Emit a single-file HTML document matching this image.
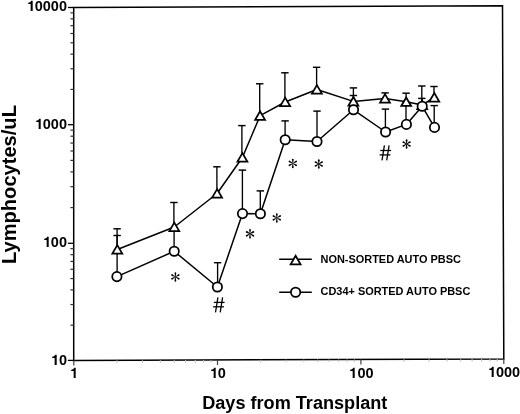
<!DOCTYPE html>
<html><head><meta charset="utf-8"><style>
html,body{margin:0;padding:0;background:#fff;}
body{filter:grayscale(1);}
body{width:520px;height:414px;overflow:hidden;position:relative;font-family:"Liberation Sans",sans-serif;}
svg{position:absolute;left:0;top:0;}
.t{position:absolute;font-weight:bold;white-space:nowrap;line-height:1;color:#000;}
.yl{font-size:14.5px;text-align:right;width:60px;}
.xl{font-size:14.5px;text-align:center;width:60px;}
.lg{font-size:10.95px;}
.one{position:relative;color:transparent;}
.one svg{position:absolute;left:0;top:0;width:0.556em;height:0.905em;overflow:visible;fill:#000;}
</style></head><body>
<svg width="520" height="414" viewBox="0 0 520 414" stroke="#000" stroke-linecap="butt">
<polygon points="73.7,7.5 502.5,5.7 503.8,358.9 73.7,360.4" fill="none" stroke-width="1.5" stroke-linejoin="miter"/>
<line x1="67.90" y1="360.40" x2="73.70" y2="360.40" stroke-width="1.3"/>
<line x1="70.40" y1="325.15" x2="73.70" y2="325.15" stroke-width="1.2" stroke="#333"/>
<line x1="70.40" y1="304.53" x2="73.70" y2="304.53" stroke-width="1.2" stroke="#333"/>
<line x1="70.40" y1="289.90" x2="73.70" y2="289.90" stroke-width="1.2" stroke="#333"/>
<line x1="70.40" y1="278.55" x2="73.70" y2="278.55" stroke-width="1.2" stroke="#333"/>
<line x1="70.40" y1="269.28" x2="73.70" y2="269.28" stroke-width="1.2" stroke="#333"/>
<line x1="70.40" y1="261.44" x2="73.70" y2="261.44" stroke-width="1.2" stroke="#333"/>
<line x1="70.40" y1="254.65" x2="73.70" y2="254.65" stroke-width="1.2" stroke="#333"/>
<line x1="70.40" y1="248.66" x2="73.70" y2="248.66" stroke-width="1.2" stroke="#333"/>
<line x1="67.90" y1="243.30" x2="73.70" y2="243.30" stroke-width="1.3"/>
<line x1="70.40" y1="207.60" x2="73.70" y2="207.60" stroke-width="1.2" stroke="#333"/>
<line x1="70.40" y1="186.71" x2="73.70" y2="186.71" stroke-width="1.2" stroke="#333"/>
<line x1="70.40" y1="171.90" x2="73.70" y2="171.90" stroke-width="1.2" stroke="#333"/>
<line x1="70.40" y1="160.40" x2="73.70" y2="160.40" stroke-width="1.2" stroke="#333"/>
<line x1="70.40" y1="151.01" x2="73.70" y2="151.01" stroke-width="1.2" stroke="#333"/>
<line x1="70.40" y1="143.07" x2="73.70" y2="143.07" stroke-width="1.2" stroke="#333"/>
<line x1="70.40" y1="136.19" x2="73.70" y2="136.19" stroke-width="1.2" stroke="#333"/>
<line x1="70.40" y1="130.13" x2="73.70" y2="130.13" stroke-width="1.2" stroke="#333"/>
<line x1="67.90" y1="124.70" x2="73.70" y2="124.70" stroke-width="1.3"/>
<line x1="70.40" y1="89.42" x2="73.70" y2="89.42" stroke-width="1.2" stroke="#333"/>
<line x1="70.40" y1="68.78" x2="73.70" y2="68.78" stroke-width="1.2" stroke="#333"/>
<line x1="70.40" y1="54.14" x2="73.70" y2="54.14" stroke-width="1.2" stroke="#333"/>
<line x1="70.40" y1="42.78" x2="73.70" y2="42.78" stroke-width="1.2" stroke="#333"/>
<line x1="70.40" y1="33.50" x2="73.70" y2="33.50" stroke-width="1.2" stroke="#333"/>
<line x1="70.40" y1="25.65" x2="73.70" y2="25.65" stroke-width="1.2" stroke="#333"/>
<line x1="70.40" y1="18.86" x2="73.70" y2="18.86" stroke-width="1.2" stroke="#333"/>
<line x1="70.40" y1="12.86" x2="73.70" y2="12.86" stroke-width="1.2" stroke="#333"/>
<line x1="67.90" y1="7.50" x2="73.70" y2="7.50" stroke-width="1.3"/>
<line x1="73.80" y1="360.40" x2="73.80" y2="365.60" stroke-width="1.2" stroke="#444"/>
<line x1="117.06" y1="360.25" x2="117.06" y2="362.85" stroke-width="1" stroke="#bbb"/>
<line x1="142.36" y1="360.16" x2="142.36" y2="362.76" stroke-width="1" stroke="#bbb"/>
<line x1="160.32" y1="360.10" x2="160.32" y2="362.70" stroke-width="1" stroke="#bbb"/>
<line x1="174.24" y1="360.05" x2="174.24" y2="362.65" stroke-width="1" stroke="#bbb"/>
<line x1="185.62" y1="360.01" x2="185.62" y2="362.61" stroke-width="1" stroke="#bbb"/>
<line x1="195.24" y1="359.98" x2="195.24" y2="362.58" stroke-width="1" stroke="#bbb"/>
<line x1="203.57" y1="359.95" x2="203.57" y2="362.55" stroke-width="1" stroke="#bbb"/>
<line x1="210.92" y1="359.92" x2="210.92" y2="362.52" stroke-width="1" stroke="#bbb"/>
<line x1="217.50" y1="359.90" x2="217.50" y2="365.10" stroke-width="1.2" stroke="#444"/>
<line x1="260.67" y1="359.75" x2="260.67" y2="362.35" stroke-width="1" stroke="#bbb"/>
<line x1="285.92" y1="359.66" x2="285.92" y2="362.26" stroke-width="1" stroke="#bbb"/>
<line x1="303.84" y1="359.60" x2="303.84" y2="362.20" stroke-width="1" stroke="#bbb"/>
<line x1="317.73" y1="359.55" x2="317.73" y2="362.15" stroke-width="1" stroke="#bbb"/>
<line x1="329.09" y1="359.51" x2="329.09" y2="362.11" stroke-width="1" stroke="#bbb"/>
<line x1="338.69" y1="359.48" x2="338.69" y2="362.08" stroke-width="1" stroke="#bbb"/>
<line x1="347.00" y1="359.45" x2="347.00" y2="362.05" stroke-width="1" stroke="#bbb"/>
<line x1="354.34" y1="359.42" x2="354.34" y2="362.02" stroke-width="1" stroke="#bbb"/>
<line x1="360.90" y1="359.40" x2="360.90" y2="364.60" stroke-width="1.2" stroke="#444"/>
<line x1="403.92" y1="359.25" x2="403.92" y2="361.85" stroke-width="1" stroke="#bbb"/>
<line x1="429.08" y1="359.16" x2="429.08" y2="361.76" stroke-width="1" stroke="#bbb"/>
<line x1="446.93" y1="359.10" x2="446.93" y2="361.70" stroke-width="1" stroke="#bbb"/>
<line x1="460.78" y1="359.05" x2="460.78" y2="361.65" stroke-width="1" stroke="#bbb"/>
<line x1="472.10" y1="359.01" x2="472.10" y2="361.61" stroke-width="1" stroke="#bbb"/>
<line x1="481.66" y1="358.98" x2="481.66" y2="361.58" stroke-width="1" stroke="#bbb"/>
<line x1="489.95" y1="358.95" x2="489.95" y2="361.55" stroke-width="1" stroke="#bbb"/>
<line x1="497.26" y1="358.92" x2="497.26" y2="361.52" stroke-width="1" stroke="#bbb"/>
<line x1="503.80" y1="358.90" x2="503.80" y2="364.10" stroke-width="1.2" stroke="#444"/>
<line x1="117.10" y1="276.60" x2="117.10" y2="235.50" stroke-width="1.35"/>
<line x1="113.40" y1="235.50" x2="120.80" y2="235.50" stroke-width="1.4500000000000002"/>
<line x1="174.10" y1="251.30" x2="174.10" y2="229.00" stroke-width="1.35"/>
<line x1="170.40" y1="229.00" x2="177.80" y2="229.00" stroke-width="1.4500000000000002"/>
<line x1="217.60" y1="287.00" x2="217.60" y2="262.70" stroke-width="1.35"/>
<line x1="213.90" y1="262.70" x2="221.30" y2="262.70" stroke-width="1.4500000000000002"/>
<line x1="242.40" y1="213.60" x2="242.40" y2="170.10" stroke-width="1.35"/>
<line x1="238.70" y1="170.10" x2="246.10" y2="170.10" stroke-width="1.4500000000000002"/>
<line x1="260.30" y1="213.70" x2="260.30" y2="190.90" stroke-width="1.35"/>
<line x1="256.60" y1="190.90" x2="264.00" y2="190.90" stroke-width="1.4500000000000002"/>
<line x1="285.10" y1="139.80" x2="285.10" y2="120.90" stroke-width="1.35"/>
<line x1="281.40" y1="120.90" x2="288.80" y2="120.90" stroke-width="1.4500000000000002"/>
<line x1="317.00" y1="141.50" x2="317.00" y2="111.10" stroke-width="1.35"/>
<line x1="313.30" y1="111.10" x2="320.70" y2="111.10" stroke-width="1.4500000000000002"/>
<line x1="353.40" y1="109.80" x2="353.40" y2="95.50" stroke-width="1.35"/>
<line x1="349.70" y1="95.50" x2="357.10" y2="95.50" stroke-width="1.4500000000000002"/>
<line x1="385.40" y1="132.00" x2="385.40" y2="109.10" stroke-width="1.35"/>
<line x1="381.70" y1="109.10" x2="389.10" y2="109.10" stroke-width="1.4500000000000002"/>
<line x1="406.00" y1="124.40" x2="406.00" y2="104.00" stroke-width="1.35"/>
<line x1="402.30" y1="104.00" x2="409.70" y2="104.00" stroke-width="1.4500000000000002"/>
<line x1="421.80" y1="106.30" x2="421.80" y2="98.40" stroke-width="1.35"/>
<line x1="418.10" y1="98.40" x2="425.50" y2="98.40" stroke-width="1.4500000000000002"/>
<line x1="434.20" y1="127.40" x2="434.20" y2="105.60" stroke-width="1.35"/>
<line x1="430.50" y1="105.60" x2="437.90" y2="105.60" stroke-width="1.4500000000000002"/>
<line x1="117.10" y1="249.50" x2="117.10" y2="228.80" stroke-width="1.35"/>
<line x1="113.40" y1="228.80" x2="120.80" y2="228.80" stroke-width="1.4500000000000002"/>
<line x1="173.90" y1="227.00" x2="173.90" y2="202.50" stroke-width="1.35"/>
<line x1="170.20" y1="202.50" x2="177.60" y2="202.50" stroke-width="1.4500000000000002"/>
<line x1="216.90" y1="193.50" x2="216.90" y2="166.80" stroke-width="1.35"/>
<line x1="213.20" y1="166.80" x2="220.60" y2="166.80" stroke-width="1.4500000000000002"/>
<line x1="241.90" y1="157.50" x2="241.90" y2="125.60" stroke-width="1.35"/>
<line x1="238.20" y1="125.60" x2="245.60" y2="125.60" stroke-width="1.4500000000000002"/>
<line x1="259.70" y1="115.70" x2="259.70" y2="83.80" stroke-width="1.35"/>
<line x1="256.00" y1="83.80" x2="263.40" y2="83.80" stroke-width="1.4500000000000002"/>
<line x1="284.90" y1="102.00" x2="284.90" y2="72.80" stroke-width="1.35"/>
<line x1="281.20" y1="72.80" x2="288.60" y2="72.80" stroke-width="1.4500000000000002"/>
<line x1="316.60" y1="89.50" x2="316.60" y2="67.30" stroke-width="1.35"/>
<line x1="312.90" y1="67.30" x2="320.30" y2="67.30" stroke-width="1.4500000000000002"/>
<line x1="353.40" y1="101.40" x2="353.40" y2="87.90" stroke-width="1.35"/>
<line x1="349.70" y1="87.90" x2="357.10" y2="87.90" stroke-width="1.4500000000000002"/>
<line x1="385.10" y1="98.50" x2="385.10" y2="92.90" stroke-width="1.35"/>
<line x1="381.40" y1="92.90" x2="388.80" y2="92.90" stroke-width="1.4500000000000002"/>
<line x1="406.10" y1="101.80" x2="406.10" y2="93.20" stroke-width="1.35"/>
<line x1="402.40" y1="93.20" x2="409.80" y2="93.20" stroke-width="1.4500000000000002"/>
<line x1="421.80" y1="105.00" x2="421.80" y2="86.00" stroke-width="1.35"/>
<line x1="418.10" y1="86.00" x2="425.50" y2="86.00" stroke-width="1.4500000000000002"/>
<line x1="434.00" y1="97.40" x2="434.00" y2="86.50" stroke-width="1.35"/>
<line x1="430.30" y1="86.50" x2="437.70" y2="86.50" stroke-width="1.4500000000000002"/>
<polyline points="117.30,249.50 174.30,227.00 217.10,193.50 242.40,157.50 260.10,115.70 285.20,102.00 316.90,89.50 353.40,101.40 385.00,98.50 406.20,101.80 422.20,105.00 434.30,97.40" fill="none" stroke-width="1.5" stroke-linejoin="round"/>
<polyline points="116.90,276.60 174.20,251.30 217.40,287.00 242.50,213.60 260.40,213.70 285.20,139.80 317.00,141.50 353.50,109.80 385.60,132.00 406.40,124.40 422.20,106.30 434.50,127.40" fill="none" stroke-width="1.5" stroke-linejoin="round"/>
<polygon points="117.30,245.15 122.25,253.65 112.35,253.65" fill="#fff" stroke-width="1.75" stroke-linejoin="miter"/>
<polygon points="174.30,222.65 179.25,231.15 169.35,231.15" fill="#fff" stroke-width="1.75" stroke-linejoin="miter"/>
<polygon points="217.10,189.15 222.05,197.65 212.15,197.65" fill="#fff" stroke-width="1.75" stroke-linejoin="miter"/>
<polygon points="242.40,153.15 247.35,161.65 237.45,161.65" fill="#fff" stroke-width="1.75" stroke-linejoin="miter"/>
<polygon points="260.10,111.35 265.05,119.85 255.15,119.85" fill="#fff" stroke-width="1.75" stroke-linejoin="miter"/>
<polygon points="285.20,97.65 290.15,106.15 280.25,106.15" fill="#fff" stroke-width="1.75" stroke-linejoin="miter"/>
<polygon points="316.90,85.15 321.85,93.65 311.95,93.65" fill="#fff" stroke-width="1.75" stroke-linejoin="miter"/>
<polygon points="353.40,97.05 358.35,105.55 348.45,105.55" fill="#fff" stroke-width="1.75" stroke-linejoin="miter"/>
<polygon points="385.00,94.15 389.95,102.65 380.05,102.65" fill="#fff" stroke-width="1.75" stroke-linejoin="miter"/>
<polygon points="406.20,97.45 411.15,105.95 401.25,105.95" fill="#fff" stroke-width="1.75" stroke-linejoin="miter"/>
<polygon points="422.20,100.65 427.15,109.15 417.25,109.15" fill="#fff" stroke-width="1.75" stroke-linejoin="miter"/>
<polygon points="434.30,93.05 439.25,101.55 429.35,101.55" fill="#fff" stroke-width="1.75" stroke-linejoin="miter"/>
<circle cx="116.90" cy="276.60" r="4.68" fill="#fff" stroke-width="1.75"/>
<circle cx="174.20" cy="251.30" r="4.68" fill="#fff" stroke-width="1.75"/>
<circle cx="217.40" cy="287.00" r="4.68" fill="#fff" stroke-width="1.75"/>
<circle cx="242.50" cy="213.60" r="4.68" fill="#fff" stroke-width="1.75"/>
<circle cx="260.40" cy="213.70" r="4.68" fill="#fff" stroke-width="1.75"/>
<circle cx="285.20" cy="139.80" r="4.68" fill="#fff" stroke-width="1.75"/>
<circle cx="317.00" cy="141.50" r="4.68" fill="#fff" stroke-width="1.75"/>
<circle cx="353.50" cy="109.80" r="4.68" fill="#fff" stroke-width="1.75"/>
<circle cx="385.60" cy="132.00" r="4.68" fill="#fff" stroke-width="1.75"/>
<circle cx="406.40" cy="124.40" r="4.68" fill="#fff" stroke-width="1.75"/>
<circle cx="422.20" cy="106.30" r="4.68" fill="#fff" stroke-width="1.75"/>
<circle cx="434.50" cy="127.40" r="4.68" fill="#fff" stroke-width="1.75"/>
<g transform="translate(175.40,276.90) scale(1.0)" fill="#000" stroke="none"><path d="M0,-0.22 L3.85,-0.88 A0.88,0.88 0 0 1 3.85,0.88 L0,0.22 Z" transform="rotate(-90)"/><path d="M0,-0.22 L3.85,-0.88 A0.88,0.88 0 0 1 3.85,0.88 L0,0.22 Z" transform="rotate(-30)"/><path d="M0,-0.22 L3.85,-0.88 A0.88,0.88 0 0 1 3.85,0.88 L0,0.22 Z" transform="rotate(30)"/><path d="M0,-0.22 L3.85,-0.88 A0.88,0.88 0 0 1 3.85,0.88 L0,0.22 Z" transform="rotate(90)"/><path d="M0,-0.22 L3.85,-0.88 A0.88,0.88 0 0 1 3.85,0.88 L0,0.22 Z" transform="rotate(150)"/><path d="M0,-0.22 L3.85,-0.88 A0.88,0.88 0 0 1 3.85,0.88 L0,0.22 Z" transform="rotate(-150)"/></g>
<g transform="translate(250.00,233.80) scale(1.0)" fill="#000" stroke="none"><path d="M0,-0.22 L3.85,-0.88 A0.88,0.88 0 0 1 3.85,0.88 L0,0.22 Z" transform="rotate(-90)"/><path d="M0,-0.22 L3.85,-0.88 A0.88,0.88 0 0 1 3.85,0.88 L0,0.22 Z" transform="rotate(-30)"/><path d="M0,-0.22 L3.85,-0.88 A0.88,0.88 0 0 1 3.85,0.88 L0,0.22 Z" transform="rotate(30)"/><path d="M0,-0.22 L3.85,-0.88 A0.88,0.88 0 0 1 3.85,0.88 L0,0.22 Z" transform="rotate(90)"/><path d="M0,-0.22 L3.85,-0.88 A0.88,0.88 0 0 1 3.85,0.88 L0,0.22 Z" transform="rotate(150)"/><path d="M0,-0.22 L3.85,-0.88 A0.88,0.88 0 0 1 3.85,0.88 L0,0.22 Z" transform="rotate(-150)"/></g>
<g transform="translate(276.80,217.90) scale(1.0)" fill="#000" stroke="none"><path d="M0,-0.22 L3.85,-0.88 A0.88,0.88 0 0 1 3.85,0.88 L0,0.22 Z" transform="rotate(-90)"/><path d="M0,-0.22 L3.85,-0.88 A0.88,0.88 0 0 1 3.85,0.88 L0,0.22 Z" transform="rotate(-30)"/><path d="M0,-0.22 L3.85,-0.88 A0.88,0.88 0 0 1 3.85,0.88 L0,0.22 Z" transform="rotate(30)"/><path d="M0,-0.22 L3.85,-0.88 A0.88,0.88 0 0 1 3.85,0.88 L0,0.22 Z" transform="rotate(90)"/><path d="M0,-0.22 L3.85,-0.88 A0.88,0.88 0 0 1 3.85,0.88 L0,0.22 Z" transform="rotate(150)"/><path d="M0,-0.22 L3.85,-0.88 A0.88,0.88 0 0 1 3.85,0.88 L0,0.22 Z" transform="rotate(-150)"/></g>
<g transform="translate(292.80,163.40) scale(1.0)" fill="#000" stroke="none"><path d="M0,-0.22 L3.85,-0.88 A0.88,0.88 0 0 1 3.85,0.88 L0,0.22 Z" transform="rotate(-90)"/><path d="M0,-0.22 L3.85,-0.88 A0.88,0.88 0 0 1 3.85,0.88 L0,0.22 Z" transform="rotate(-30)"/><path d="M0,-0.22 L3.85,-0.88 A0.88,0.88 0 0 1 3.85,0.88 L0,0.22 Z" transform="rotate(30)"/><path d="M0,-0.22 L3.85,-0.88 A0.88,0.88 0 0 1 3.85,0.88 L0,0.22 Z" transform="rotate(90)"/><path d="M0,-0.22 L3.85,-0.88 A0.88,0.88 0 0 1 3.85,0.88 L0,0.22 Z" transform="rotate(150)"/><path d="M0,-0.22 L3.85,-0.88 A0.88,0.88 0 0 1 3.85,0.88 L0,0.22 Z" transform="rotate(-150)"/></g>
<g transform="translate(318.80,164.00) scale(1.0)" fill="#000" stroke="none"><path d="M0,-0.22 L3.85,-0.88 A0.88,0.88 0 0 1 3.85,0.88 L0,0.22 Z" transform="rotate(-90)"/><path d="M0,-0.22 L3.85,-0.88 A0.88,0.88 0 0 1 3.85,0.88 L0,0.22 Z" transform="rotate(-30)"/><path d="M0,-0.22 L3.85,-0.88 A0.88,0.88 0 0 1 3.85,0.88 L0,0.22 Z" transform="rotate(30)"/><path d="M0,-0.22 L3.85,-0.88 A0.88,0.88 0 0 1 3.85,0.88 L0,0.22 Z" transform="rotate(90)"/><path d="M0,-0.22 L3.85,-0.88 A0.88,0.88 0 0 1 3.85,0.88 L0,0.22 Z" transform="rotate(150)"/><path d="M0,-0.22 L3.85,-0.88 A0.88,0.88 0 0 1 3.85,0.88 L0,0.22 Z" transform="rotate(-150)"/></g>
<g transform="translate(406.60,144.00) scale(1.0)" fill="#000" stroke="none"><path d="M0,-0.22 L3.85,-0.88 A0.88,0.88 0 0 1 3.85,0.88 L0,0.22 Z" transform="rotate(-90)"/><path d="M0,-0.22 L3.85,-0.88 A0.88,0.88 0 0 1 3.85,0.88 L0,0.22 Z" transform="rotate(-30)"/><path d="M0,-0.22 L3.85,-0.88 A0.88,0.88 0 0 1 3.85,0.88 L0,0.22 Z" transform="rotate(30)"/><path d="M0,-0.22 L3.85,-0.88 A0.88,0.88 0 0 1 3.85,0.88 L0,0.22 Z" transform="rotate(90)"/><path d="M0,-0.22 L3.85,-0.88 A0.88,0.88 0 0 1 3.85,0.88 L0,0.22 Z" transform="rotate(150)"/><path d="M0,-0.22 L3.85,-0.88 A0.88,0.88 0 0 1 3.85,0.88 L0,0.22 Z" transform="rotate(-150)"/></g>
<line x1="217.90" y1="297.30" x2="215.50" y2="312.30" stroke-width="1.28"/>
<line x1="222.60" y1="297.30" x2="220.20" y2="312.30" stroke-width="1.28"/>
<line x1="213.80" y1="302.40" x2="224.60" y2="302.40" stroke-width="1.28"/>
<line x1="213.10" y1="306.80" x2="223.90" y2="306.80" stroke-width="1.28"/>
<line x1="384.40" y1="145.40" x2="382.00" y2="160.40" stroke-width="1.28"/>
<line x1="389.10" y1="145.40" x2="386.70" y2="160.40" stroke-width="1.28"/>
<line x1="380.30" y1="150.50" x2="391.10" y2="150.50" stroke-width="1.28"/>
<line x1="379.60" y1="154.90" x2="390.40" y2="154.90" stroke-width="1.28"/>
<line x1="279.20" y1="259.30" x2="311.80" y2="259.30" stroke-width="1.5"/>
<polygon points="295.60,255.75 300.55,264.25 290.65,264.25" fill="#fff" stroke-width="1.75" stroke-linejoin="miter"/>
<line x1="279.20" y1="292.30" x2="311.80" y2="292.30" stroke-width="1.5"/>
<circle cx="295.60" cy="292.30" r="4.68" fill="#fff" stroke-width="1.75"/>
</svg>
<div class="t yl" style="left:7px;top:-1px"><span class="one">1<svg viewBox="0 -905 556 905"><path transform="translate(15,0) scale(1,-1)" d="M378,0 L378,712 L272,712 C254,640 195,592 69,584 L69,490 L238,490 L238,0 Z"/></svg></span>0000</div>
<div class="t yl" style="left:7px;top:116.5px"><span class="one">1<svg viewBox="0 -905 556 905"><path transform="translate(15,0) scale(1,-1)" d="M378,0 L378,712 L272,712 C254,640 195,592 69,584 L69,490 L238,490 L238,0 Z"/></svg></span>000</div>
<div class="t yl" style="left:7px;top:235px"><span class="one">1<svg viewBox="0 -905 556 905"><path transform="translate(15,0) scale(1,-1)" d="M378,0 L378,712 L272,712 C254,640 195,592 69,584 L69,490 L238,490 L238,0 Z"/></svg></span>00</div>
<div class="t yl" style="left:7px;top:353px"><span class="one">1<svg viewBox="0 -905 556 905"><path transform="translate(15,0) scale(1,-1)" d="M378,0 L378,712 L272,712 C254,640 195,592 69,584 L69,490 L238,490 L238,0 Z"/></svg></span>0</div>
<div class="t xl" style="left:44.3px;top:365.8px"><span class="one">1<svg viewBox="0 -905 556 905"><path transform="translate(15,0) scale(1,-1)" d="M378,0 L378,712 L272,712 C254,640 195,592 69,584 L69,490 L238,490 L238,0 Z"/></svg></span></div>
<div class="t xl" style="left:187.8px;top:366px"><span class="one">1<svg viewBox="0 -905 556 905"><path transform="translate(15,0) scale(1,-1)" d="M378,0 L378,712 L272,712 C254,640 195,592 69,584 L69,490 L238,490 L238,0 Z"/></svg></span>0</div>
<div class="t xl" style="left:331.5px;top:365.5px"><span class="one">1<svg viewBox="0 -905 556 905"><path transform="translate(15,0) scale(1,-1)" d="M378,0 L378,712 L272,712 C254,640 195,592 69,584 L69,490 L238,490 L238,0 Z"/></svg></span>00</div>
<div class="t xl" style="left:474px;top:364.5px"><span class="one">1<svg viewBox="0 -905 556 905"><path transform="translate(15,0) scale(1,-1)" d="M378,0 L378,712 L272,712 C254,640 195,592 69,584 L69,490 L238,490 L238,0 Z"/></svg></span>000</div>
<div class="t" style="left:202.2px;top:394.4px;font-size:18.12px">Days from Transplant</div>
<div class="t" style="left:0;top:0;font-size:20.1px;transform-origin:0 0;transform:translate(-1px,264px) rotate(-90deg)">Lymphocytes/uL</div>
<div class="t lg" style="left:320.5px;top:253.5px">NON-SORTED AUTO PBSC</div>
<div class="t lg" style="left:320.5px;top:285.5px">CD34+ SORTED AUTO PBSC</div>
</body></html>
